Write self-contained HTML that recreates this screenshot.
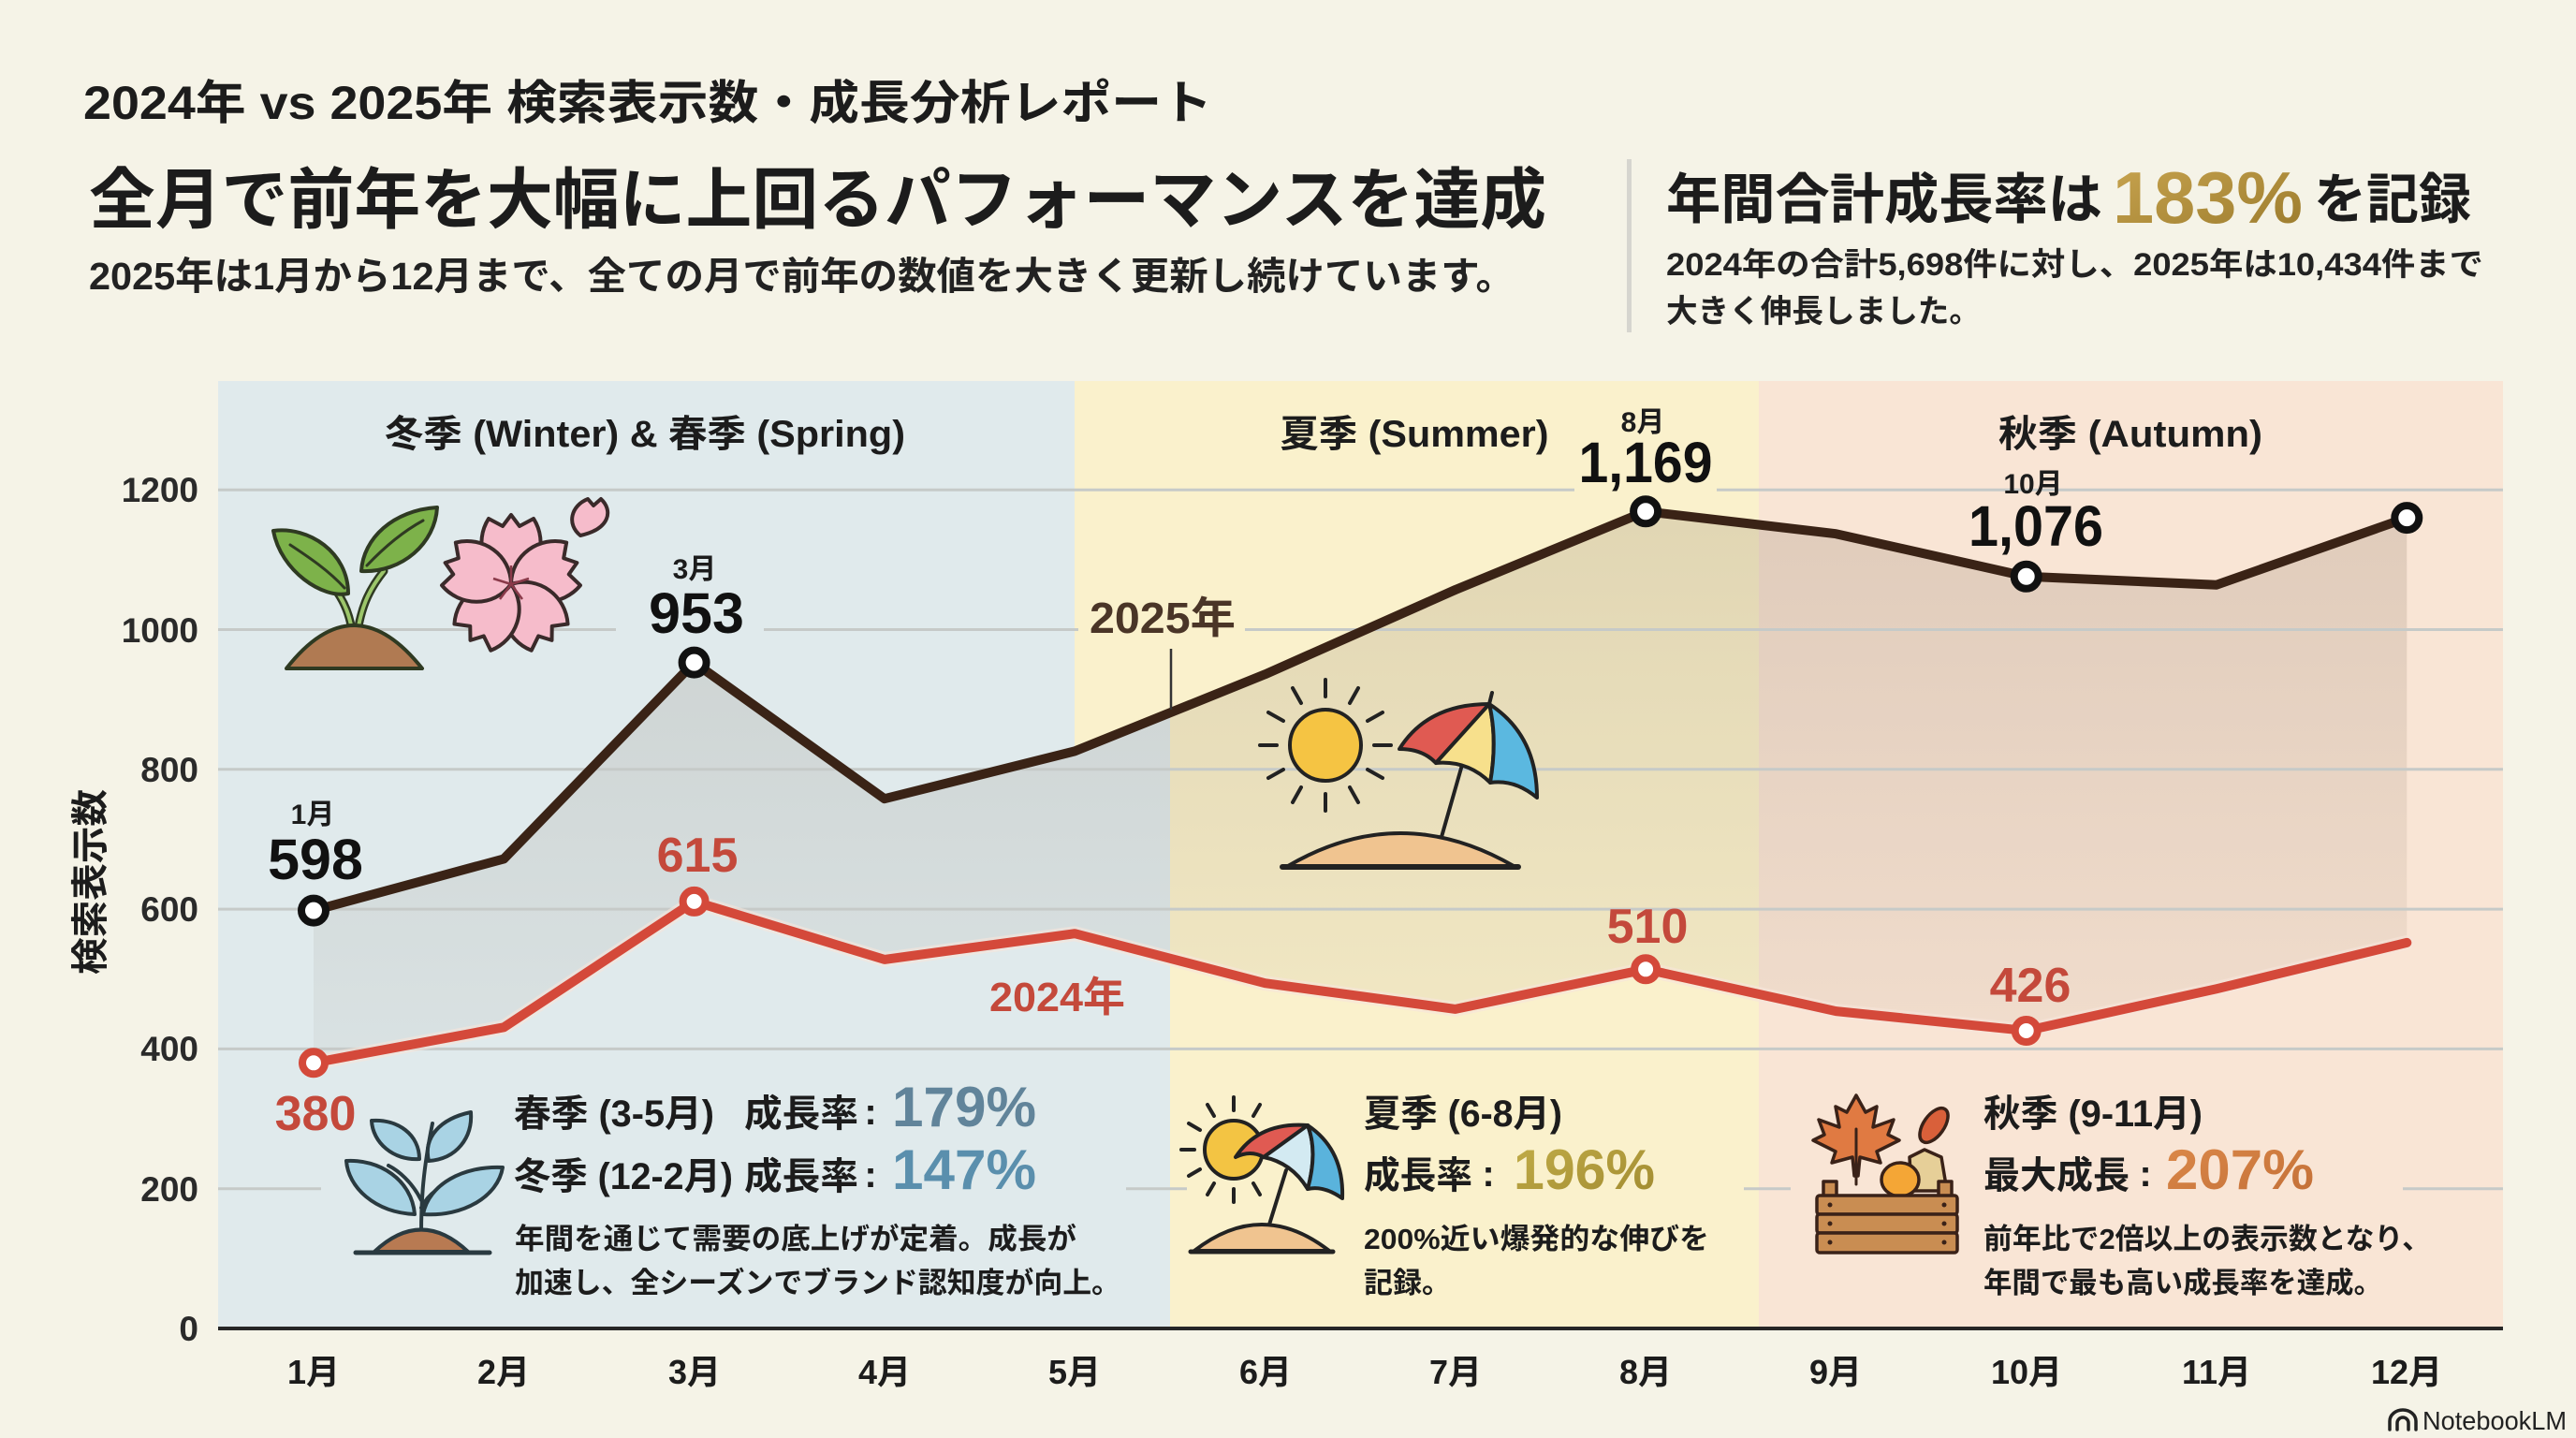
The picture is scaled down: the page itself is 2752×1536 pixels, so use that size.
<!DOCTYPE html>
<html><head><meta charset="utf-8">
<style>
html,body{margin:0;padding:0;background:#f5f3e7;}
svg{display:block;}
.j{font-family:"Liberation Sans","Noto Sans CJK JP",sans-serif;font-weight:700;fill:#1c1c1c;}
.m{font-family:"Liberation Sans","Noto Sans CJK JP",sans-serif;font-weight:700;fill:#222;}
.n{font-family:"Liberation Sans",sans-serif;font-weight:700;}
.r{fill:#c4493b;}
</style></head>
<body>
<svg width="2752" height="1536" viewBox="0 0 2752 1536" xmlns="http://www.w3.org/2000/svg">
<defs>
  <linearGradient id="shade" gradientUnits="userSpaceOnUse" x1="0" y1="540" x2="0" y2="1130">
    <stop offset="0" stop-color="#5a4632" stop-opacity="0.16"/>
    <stop offset="1" stop-color="#5a4632" stop-opacity="0.05"/>
  </linearGradient>
  <linearGradient id="gold" x1="0" y1="0" x2="1" y2="1">
    <stop offset="0" stop-color="#c9a550"/><stop offset="1" stop-color="#9a7a2c"/>
  </linearGradient>
  <linearGradient id="olive" x1="0" y1="0" x2="1" y2="1">
    <stop offset="0" stop-color="#c2ad48"/><stop offset="1" stop-color="#a08a30"/>
  </linearGradient>
  <linearGradient id="orng" x1="0" y1="0" x2="1" y2="1">
    <stop offset="0" stop-color="#dc8a4a"/><stop offset="1" stop-color="#c26e36"/>
  </linearGradient>
  <clipPath id="under"><polygon points="335,972.6 538.3,917.4 741.6,707.6 944.9,853.2 1148.2,802.4 1351.5,720.3 1554.8,630 1758.1,546.3 1961.4,570.2 2164.7,615.8 2368,624.7 2571.3,553.1 2571.3,1419 335,1419"/></clipPath>
</defs>

<rect x="0" y="0" width="2752" height="1536" fill="#f5f3e7"/>

<!-- Header -->
<text class="j" x="89" y="127" font-size="50" textLength="1206" lengthAdjust="spacingAndGlyphs">2024年 vs 2025年 検索表示数・成長分析レポート</text>
<text class="j" x="95" y="238" font-size="71" font-weight="900" textLength="1557" lengthAdjust="spacingAndGlyphs">全月で前年を大幅に上回るパフォーマンスを達成</text>
<text class="m" x="95" y="309" font-size="41" textLength="1523" lengthAdjust="spacingAndGlyphs">2025年は1月から12月まで、全ての月で前年の数値を大きく更新し続けています。</text>

<rect x="1738" y="170" width="5" height="185" fill="#d6d5cf"/>
<text class="j" x="1780" y="233" font-size="58" textLength="466" lengthAdjust="spacingAndGlyphs">年間合計成長率は</text>
<text class="n" x="2257" y="238" font-size="78" fill="url(#gold)" textLength="203" lengthAdjust="spacingAndGlyphs">183%</text>
<text class="j" x="2472" y="233" font-size="58" textLength="168" lengthAdjust="spacingAndGlyphs">を記録</text>
<text class="m" x="1780" y="294" font-size="34" textLength="873" lengthAdjust="spacingAndGlyphs">2024年の合計5,698件に対し、2025年は10,434件まで</text>
<text class="m" x="1780" y="344" font-size="34" textLength="336" lengthAdjust="spacingAndGlyphs">大きく伸長しました。</text>

<!-- Chart backgrounds -->
<rect x="233" y="407" width="915" height="1012" fill="#e0eaec"/>
<rect x="1148" y="407" width="731" height="1012" fill="#faf1cc"/>
<rect x="1879" y="407" width="795" height="1012" fill="#f9e5d5"/>
<rect x="1148" y="407" width="102" height="1012" fill="#e0eaec" clip-path="url(#under)"/>

<!-- Shading between lines -->
<polygon fill="url(#shade)" points="335,972.6 538.3,917.4 741.6,707.6 944.9,853.2 1148.2,802.4 1351.5,720.3 1554.8,630 1758.1,546.3 1961.4,570.2 2164.7,615.8 2368,624.7 2571.3,553.1 2571.3,1006.9 2368,1056.2 2164.7,1101 1961.4,1080.1 1758.1,1035.3 1554.8,1077.9 1351.5,1050.2 1148.2,997.2 944.9,1024.9 741.6,962.9 538.3,1097.3 335,1135.3"/>

<!-- Gridlines -->
<g stroke="#c6cac8" stroke-width="3">
  <line x1="233" y1="523.2" x2="2674" y2="523.2"/>
  <line x1="233" y1="672.5" x2="2674" y2="672.5"/>
  <line x1="233" y1="821.8" x2="2674" y2="821.8"/>
  <line x1="233" y1="971.1" x2="2674" y2="971.1"/>
  <line x1="233" y1="1120.4" x2="2674" y2="1120.4"/>
  <line x1="233" y1="1269.7" x2="2674" y2="1269.7"/>
</g>
<line x1="233" y1="1419" x2="2674" y2="1419" stroke="#262626" stroke-width="4"/>

<!-- label backgrounds breaking gridlines -->
<rect x="658" y="660" width="158" height="24" fill="#e0eaec"/>
<rect x="1682" y="512" width="152" height="22" fill="#faf1cc"/>
<rect x="1152" y="660" width="178" height="24" fill="#faf1cc"/>

<!-- Bottom boxes (cover gridline) -->
<rect x="343" y="1140" width="860" height="265" fill="#e0eaec"/>
<rect x="1268" y="1140" width="595" height="265" fill="#faf1cc"/>
<rect x="1913" y="1140" width="654" height="265" fill="#f9e5d5"/>

<!-- Season headers -->
<text class="j" x="689" y="477" font-size="40" text-anchor="middle" textLength="556" lengthAdjust="spacingAndGlyphs">冬季 (Winter) &amp; 春季 (Spring)</text>
<text class="j" x="1511" y="477" font-size="40" text-anchor="middle" textLength="287" lengthAdjust="spacingAndGlyphs">夏季 (Summer)</text>
<text class="j" x="2276" y="477" font-size="40" text-anchor="middle" textLength="282" lengthAdjust="spacingAndGlyphs">秋季 (Autumn)</text>

<!-- Y axis -->
<g class="n" font-size="37" fill="#2a2a2a" text-anchor="end">
  <text x="212" y="536">1200</text>
  <text x="212" y="686">1000</text>
  <text x="212" y="835">800</text>
  <text x="212" y="984">600</text>
  <text x="212" y="1133">400</text>
  <text x="212" y="1283">200</text>
  <text x="212" y="1432">0</text>
</g>
<text class="j" x="0" y="0" font-size="40" text-anchor="middle" textLength="198" lengthAdjust="spacingAndGlyphs" transform="translate(110,942) rotate(-90)">検索表示数</text>

<!-- X axis labels -->
<g class="j" font-size="36" text-anchor="middle">
  <text x="335" y="1478">1月</text>
  <text x="538" y="1478">2月</text>
  <text x="742" y="1478">3月</text>
  <text x="945" y="1478">4月</text>
  <text x="1148" y="1478">5月</text>
  <text x="1352" y="1478">6月</text>
  <text x="1555" y="1478">7月</text>
  <text x="1758" y="1478">8月</text>
  <text x="1961" y="1478">9月</text>
  <text x="2165" y="1478">10月</text>
  <text x="2368" y="1478">11月</text>
  <text x="2571" y="1478">12月</text>
</g>

<!-- Icons: seedling -->
<g stroke="#2f3a22" stroke-width="4" stroke-linejoin="round" stroke-linecap="round">
  <path d="M378,690 C376,660 368,640 352,622" fill="none" stroke-width="9" stroke="#2f3a22"/>
  <path d="M378,690 C376,660 368,640 352,622" fill="none" stroke-width="4" stroke="#9cc66a"/>
  <path d="M380,690 C384,650 394,630 410,610" fill="none" stroke-width="9" stroke="#2f3a22"/>
  <path d="M380,690 C384,650 394,630 410,610" fill="none" stroke-width="4" stroke="#9cc66a"/>
  <path d="M372,634 C345,640 300,610 292,567 C330,562 372,590 372,634 Z" fill="#7db24a"/>
  <path d="M368,628 C350,608 325,592 310,582" fill="none" stroke-width="3"/>
  <path d="M386,610 C388,575 420,545 467,542 C465,580 430,612 386,610 Z" fill="#7db24a"/>
  <path d="M392,604 C410,585 430,568 452,556" fill="none" stroke-width="3"/>
  <path d="M306,714 Q378,622 451,714 Z" fill="#b07a52"/>
</g>

<!-- Cherry blossom -->
<g transform="translate(546,624)" stroke="#3a2a2a" stroke-width="4" stroke-linejoin="round" fill="#f6bccb">
  <path d="M0,0 C-30,-10 -40,-45 -24,-70 L-9,-62 L0,-74 L9,-62 L24,-70 C40,-45 30,-10 0,0 Z"/>
  <path transform="rotate(72)" d="M0,0 C-30,-10 -40,-45 -24,-70 L-9,-62 L0,-74 L9,-62 L24,-70 C40,-45 30,-10 0,0 Z"/>
  <path transform="rotate(144)" d="M0,0 C-30,-10 -40,-45 -24,-70 L-9,-62 L0,-74 L9,-62 L24,-70 C40,-45 30,-10 0,0 Z"/>
  <path transform="rotate(216)" d="M0,0 C-30,-10 -40,-45 -24,-70 L-9,-62 L0,-74 L9,-62 L24,-70 C40,-45 30,-10 0,0 Z"/>
  <path transform="rotate(288)" d="M0,0 C-30,-10 -40,-45 -24,-70 L-9,-62 L0,-74 L9,-62 L24,-70 C40,-45 30,-10 0,0 Z"/>
  <g stroke="#8a3a4a" stroke-width="2.5" fill="none">
    <line x1="0" y1="0" x2="0" y2="-20"/><line x1="0" y1="0" x2="19" y2="-6"/><line x1="0" y1="0" x2="12" y2="16"/><line x1="0" y1="0" x2="-12" y2="16"/><line x1="0" y1="0" x2="-19" y2="-6"/>
  </g>
</g>
<path d="M620,572 C605,560 610,540 628,533 L634,540 L642,533 C655,545 652,565 620,572 Z" fill="#f6bccb" stroke="#3a2a2a" stroke-width="4" stroke-linejoin="round"/>

<!-- Sun + umbrella (upper summer) -->
<g stroke="#222" stroke-width="4" stroke-linecap="round" stroke-linejoin="round">
  <g transform="translate(1416,796)">
    <line x1="0" y1="-52" x2="0" y2="-70"/><line x1="0" y1="52" x2="0" y2="70"/>
    <line x1="-52" y1="0" x2="-70" y2="0"/><line x1="52" y1="0" x2="70" y2="0"/>
    <line x1="26" y1="-45" x2="35" y2="-61"/><line x1="-26" y1="-45" x2="-35" y2="-61"/>
    <line x1="26" y1="45" x2="35" y2="61"/><line x1="-26" y1="45" x2="-35" y2="61"/>
    <line x1="45" y1="-26" x2="61" y2="-35"/><line x1="-45" y1="-26" x2="-61" y2="-35"/>
    <line x1="45" y1="26" x2="61" y2="35"/><line x1="-45" y1="26" x2="-61" y2="35"/>
    <circle cx="0" cy="0" r="38" fill="#f5c443"/>
  </g>
  <line x1="1562" y1="817" x2="1540" y2="894"/>
  <path d="M1495,800 Q1525,752 1591,752 L1534,815 Q1520,800 1495,800 Z" fill="#e05a52"/>
  <path d="M1591,752 L1534,815 Q1568,812 1592,836 Q1600,790 1591,752 Z" fill="#f7e08c"/>
  <path d="M1591,752 Q1642,785 1642,852 Q1618,832 1592,836 Q1600,790 1591,752 Z" fill="#5bb8e0"/>
  <line x1="1591" y1="752" x2="1594" y2="740"/>
  <path d="M1376,925 Q1496,855 1617,925 Z" fill="#f0c490"/>
  <line x1="1370" y1="926" x2="1622" y2="926" stroke-width="6"/>
</g>

<!-- Bottom box 1 icon: blue plant -->
<g stroke="#2a3a40" stroke-width="4" stroke-linejoin="round" stroke-linecap="round">
  <path d="M450,1318 C450,1280 452,1250 462,1200" fill="none" stroke-width="4"/>
  <path d="M450,1282 C440,1262 425,1250 415,1245" fill="none"/>
  <path d="M450,1290 C460,1270 480,1262 500,1258" fill="none"/>
  <path d="M448,1238 C420,1240 398,1220 397,1197 C425,1195 448,1212 448,1238 Z" fill="#a9d3e4"/>
  <path d="M458,1240 C452,1215 470,1195 503,1188 C505,1215 488,1238 458,1240 Z" fill="#a9d3e4"/>
  <path d="M443,1297 C400,1295 372,1268 370,1240 C405,1238 440,1260 443,1297 Z" fill="#a9d3e4"/>
  <path d="M452,1297 C458,1265 495,1245 537,1247 C532,1278 495,1300 452,1297 Z" fill="#a9d3e4"/>
  <path d="M400,1337 Q450,1290 500,1337 Z" fill="#b87a52"/>
  <line x1="380" y1="1338" x2="523" y2="1338" stroke-width="5"/>
</g>

<!-- Bottom box 2 icon: sun & umbrella -->
<g stroke="#222" stroke-width="4" stroke-linecap="round" stroke-linejoin="round">
  <g transform="translate(1318,1228)">
    <line x1="0" y1="-42" x2="0" y2="-56"/><line x1="0" y1="42" x2="0" y2="56"/>
    <line x1="-42" y1="0" x2="-56" y2="0"/>
    <line x1="-21" y1="-36" x2="-28" y2="-48"/><line x1="21" y1="-36" x2="28" y2="-48"/>
    <line x1="-21" y1="36" x2="-28" y2="48"/><line x1="21" y1="36" x2="28" y2="48"/>
    <line x1="-36" y1="-21" x2="-48" y2="-28"/><line x1="-36" y1="21" x2="-48" y2="28"/>
    <circle cx="0" cy="0" r="31" fill="#f3c443"/>
  </g>
  <line x1="1374" y1="1250" x2="1356" y2="1308"/>
  <path d="M1320,1236 Q1345,1198 1397,1202 L1350,1236 Q1336,1228 1320,1236 Z" fill="#e05a52"/>
  <path d="M1397,1202 L1350,1236 Q1380,1242 1397,1270 Q1408,1230 1397,1202 Z" fill="#d3eaf2"/>
  <path d="M1397,1202 Q1436,1228 1434,1280 Q1414,1266 1397,1270 Q1408,1230 1397,1202 Z" fill="#5ab3dc"/>
  <path d="M1276,1336 Q1348,1280 1420,1336 Z" fill="#f0c490"/>
  <line x1="1272" y1="1337" x2="1424" y2="1337" stroke-width="5"/>
</g>

<!-- Bottom box 3 icon: autumn crate -->
<g stroke="#3a2218" stroke-width="3.5" stroke-linejoin="round" stroke-linecap="round">
  <polygon transform="translate(1983,1216)" fill="#e07a42" points="0,-46 10,-28 22,-34 18,-12 40,-20 34,-4 46,2 22,14 26,26 4,20 2,40 -2,40 -4,20 -26,26 -22,14 -46,2 -34,-4 -40,-20 -18,-12 -22,-34 -10,-28"/>
  <line x1="1983" y1="1206" x2="1983" y2="1265" stroke-width="3"/>
  <ellipse cx="2066" cy="1202" rx="11" ry="21" transform="rotate(35 2066 1202)" fill="#d9603a"/>
  <path d="M2042,1272 L2040,1236 L2056,1228 L2074,1236 L2080,1272 Z" fill="#e6cf98"/>
  <ellipse cx="2030" cy="1260" rx="20" ry="18" fill="#f4a636"/>
  <rect x="1948" y="1262" width="14" height="17" fill="#c98d52"/>
  <rect x="2071" y="1262" width="14" height="17" fill="#c98d52"/>
  <rect x="1941" y="1277" width="150" height="20" rx="3" fill="#c98d52"/>
  <rect x="1941" y="1297" width="150" height="20" rx="3" fill="#c98d52"/>
  <rect x="1941" y="1317" width="150" height="21" rx="3" fill="#c98d52"/>
</g>
<g fill="#3a2218">
  <circle cx="1955" cy="1287" r="2.5"/><circle cx="2077" cy="1287" r="2.5"/>
  <circle cx="1955" cy="1307" r="2.5"/><circle cx="2077" cy="1307" r="2.5"/>
  <circle cx="1955" cy="1327" r="2.5"/><circle cx="2077" cy="1327" r="2.5"/>
</g>

<!-- 2024 line -->
<polyline fill="none" stroke="#f6e4da" stroke-opacity="0.6" stroke-width="16" stroke-linejoin="round" stroke-linecap="round" points="335,1135.3 538.3,1097.3 741.6,962.9 944.9,1024.9 1148.2,997.2 1351.5,1050.2 1554.8,1077.9 1758.1,1035.3 1961.4,1080.1 2164.7,1101 2368,1056.2 2571.3,1006.9"/>
<polyline fill="none" stroke="#d4493a" stroke-width="10" stroke-linejoin="round" stroke-linecap="round" points="335,1135.3 538.3,1097.3 741.6,962.9 944.9,1024.9 1148.2,997.2 1351.5,1050.2 1554.8,1077.9 1758.1,1035.3 1961.4,1080.1 2164.7,1101 2368,1056.2 2571.3,1006.9"/>

<!-- 2025 line -->
<polyline fill="none" stroke="#3a2316" stroke-width="10" stroke-linejoin="round" stroke-linecap="round" points="335,972.6 538.3,917.4 741.6,707.6 944.9,853.2 1148.2,802.4 1351.5,720.3 1554.8,630 1758.1,546.3 1961.4,570.2 2164.7,615.8 2368,624.7 2571.3,553.1"/>

<!-- Markers -->
<g fill="#ffffff" stroke="#d4493a" stroke-width="8">
  <circle cx="335" cy="1135.3" r="12"/>
  <circle cx="741.6" cy="962.9" r="12"/>
  <circle cx="1758.1" cy="1035.3" r="12"/>
  <circle cx="2164.7" cy="1101" r="12"/>
</g>
<g fill="#ffffff" stroke="#111" stroke-width="8">
  <circle cx="335" cy="972.6" r="13"/>
  <circle cx="741.6" cy="707.6" r="13"/>
  <circle cx="1758.1" cy="546.3" r="13"/>
  <circle cx="2164.7" cy="615.8" r="13"/>
  <circle cx="2571.3" cy="553.1" r="13"/>
</g>

<!-- Series labels -->
<line x1="1251" y1="693" x2="1251" y2="758" stroke="#333" stroke-width="2.5"/>
<text class="j" x="1164" y="676" font-size="46" style="fill:#4a3527" textLength="156" lengthAdjust="spacingAndGlyphs">2025年</text>
<text class="j r" x="1057" y="1080" font-size="44" style="fill:#c4493b" textLength="145" lengthAdjust="spacingAndGlyphs">2024年</text>

<!-- Data labels 2025 -->
<g text-anchor="middle">
  <text class="j" x="334" y="880" font-size="30">1月</text>
  <text class="n" x="337" y="939" font-size="61" fill="#111">598</text>
  <text class="j" x="742" y="618" font-size="30">3月</text>
  <text class="n" x="744" y="676" font-size="61" fill="#111">953</text>
  <text class="j" x="1755" y="461" font-size="30">8月</text>
  <text class="n" x="1758" y="515" font-size="61" fill="#111" textLength="143" lengthAdjust="spacingAndGlyphs">1,169</text>
  <text class="j" x="2172" y="527" font-size="30">10月</text>
  <text class="n" x="2175" y="583" font-size="61" fill="#111" textLength="144" lengthAdjust="spacingAndGlyphs">1,076</text>
</g>
<!-- Data labels 2024 -->
<g class="n" text-anchor="middle" font-size="52" fill="#c4493b">
  <text x="337" y="1207">380</text>
  <text x="745" y="931">615</text>
  <text x="1760" y="1007">510</text>
  <text x="2169" y="1070">426</text>
</g>

<!-- Box 1 text -->
<text class="j" x="549" y="1203" font-size="40" textLength="214" lengthAdjust="spacingAndGlyphs">春季 (3-5月)</text>
<text class="j" x="795" y="1203" font-size="40" textLength="122" lengthAdjust="spacingAndGlyphs">成長率</text>
<text class="j" x="930" y="1201" font-size="40" text-anchor="middle">:</text>
<text class="n" x="953" y="1203" font-size="60" fill="#61849a" textLength="154" lengthAdjust="spacingAndGlyphs">179%</text>
<text class="j" x="549" y="1270" font-size="40" textLength="234" lengthAdjust="spacingAndGlyphs">冬季 (12-2月)</text>
<text class="j" x="795" y="1270" font-size="40" textLength="122" lengthAdjust="spacingAndGlyphs">成長率</text>
<text class="j" x="930" y="1268" font-size="40" text-anchor="middle">:</text>
<text class="n" x="953" y="1270" font-size="60" fill="#5a8fad" textLength="154" lengthAdjust="spacingAndGlyphs">147%</text>
<text class="j" x="550" y="1334" font-size="31" textLength="600" lengthAdjust="spacingAndGlyphs">年間を通じて需要の底上げが定着。成長が</text>
<text class="j" x="550" y="1381" font-size="31" textLength="647" lengthAdjust="spacingAndGlyphs">加速し、全シーズンでブランド認知度が向上。</text>

<!-- Box 2 text -->
<text class="j" x="1457" y="1203" font-size="40" textLength="212" lengthAdjust="spacingAndGlyphs">夏季 (6-8月)</text>
<text class="j" x="1457" y="1269" font-size="40" textLength="116" lengthAdjust="spacingAndGlyphs">成長率</text>
<text class="j" x="1590" y="1267" font-size="40" text-anchor="middle">:</text>
<text class="n" x="1617" y="1270" font-size="60" fill="url(#olive)" textLength="151" lengthAdjust="spacingAndGlyphs">196%</text>
<text class="j" x="1457" y="1334" font-size="31" textLength="369" lengthAdjust="spacingAndGlyphs">200%近い爆発的な伸びを</text>
<text class="j" x="1457" y="1381" font-size="31">記録。</text>

<!-- Box 3 text -->
<text class="j" x="2119" y="1203" font-size="40" textLength="234" lengthAdjust="spacingAndGlyphs">秋季 (9-11月)</text>
<text class="j" x="2119" y="1269" font-size="40" textLength="156" lengthAdjust="spacingAndGlyphs">最大成長</text>
<text class="j" x="2292" y="1267" font-size="40" text-anchor="middle">:</text>
<text class="n" x="2314" y="1270" font-size="60" fill="url(#orng)" textLength="158" lengthAdjust="spacingAndGlyphs">207%</text>
<text class="j" x="2119" y="1334" font-size="31" textLength="478" lengthAdjust="spacingAndGlyphs">前年比で2倍以上の表示数となり、</text>
<text class="j" x="2119" y="1381" font-size="31" textLength="426" lengthAdjust="spacingAndGlyphs">年間で最も高い成長率を達成。</text>

<!-- NotebookLM watermark -->
<g fill="none" stroke="#222" stroke-width="3.5" stroke-linecap="round">
  <path d="M2553,1527 L2553,1518 A14,12 0 0 1 2581,1518 L2581,1527"/>
  <path d="M2561,1527 L2561,1520 A6,6 0 0 1 2573,1520 L2573,1527"/>
</g>
<text x="2588" y="1527" font-family="Liberation Sans, sans-serif" font-size="28" fill="#222" textLength="154" lengthAdjust="spacingAndGlyphs">NotebookLM</text>
</svg>
</body></html>
